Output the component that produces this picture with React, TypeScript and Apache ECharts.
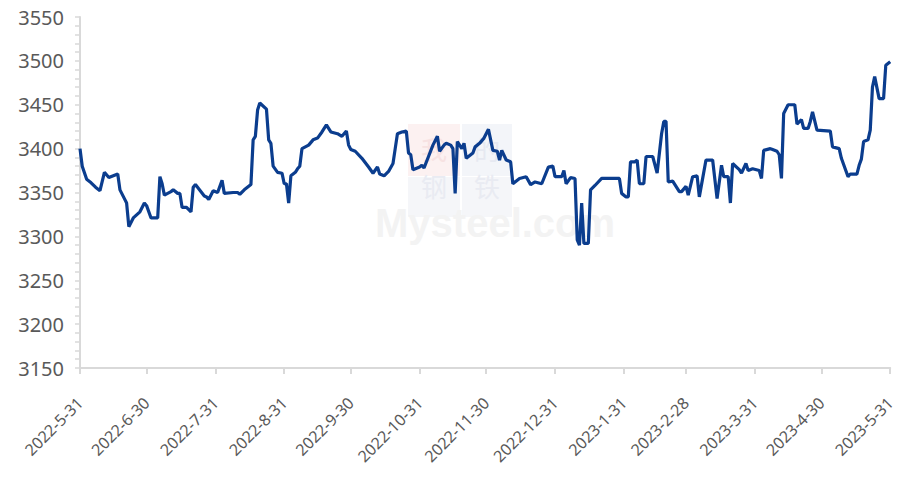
import React, { useEffect, useRef } from "react";
import * as echarts from "echarts";

const startDate = "2022-05-31";
const endDate = "2023-05-31";

const yTicks = { min: 3150, max: 3550, step: 50 };

const dates: string[] = [
  "2022-05-31", "2022-06-01", "2022-06-03", "2022-06-05", "2022-06-07", "2022-06-09", "2022-06-11", "2022-06-13",
  "2022-06-17", "2022-06-18", "2022-06-20", "2022-06-21", "2022-06-22", "2022-06-24", "2022-06-27", "2022-06-29",
  "2022-06-30", "2022-07-02", "2022-07-05", "2022-07-06", "2022-07-07", "2022-07-08", "2022-07-11", "2022-07-12",
  "2022-07-14", "2022-07-15", "2022-07-16", "2022-07-18", "2022-07-20", "2022-07-21", "2022-07-22", "2022-07-26",
  "2022-07-27", "2022-07-28", "2022-07-30", "2022-08-01", "2022-08-03", "2022-08-04", "2022-08-08", "2022-08-10",
  "2022-08-11", "2022-08-13", "2022-08-16", "2022-08-17", "2022-08-18", "2022-08-19", "2022-08-20", "2022-08-23",
  "2022-08-24", "2022-08-25", "2022-08-26", "2022-08-28", "2022-08-30", "2022-08-31", "2022-09-01", "2022-09-02",
  "2022-09-03", "2022-09-05", "2022-09-06", "2022-09-07", "2022-09-08", "2022-09-11", "2022-09-13", "2022-09-15",
  "2022-09-17", "2022-09-19", "2022-09-21", "2022-09-24", "2022-09-26", "2022-09-28", "2022-09-29", "2022-09-30",
  "2022-10-02", "2022-10-05", "2022-10-08", "2022-10-10", "2022-10-12", "2022-10-13", "2022-10-15", "2022-10-17",
  "2022-10-19", "2022-10-20", "2022-10-21", "2022-10-23", "2022-10-25", "2022-10-26", "2022-10-27", "2022-10-28",
  "2022-10-31", "2022-11-01", "2022-11-02", "2022-11-04", "2022-11-06", "2022-11-08", "2022-11-09", "2022-11-11",
  "2022-11-12", "2022-11-14", "2022-11-15", "2022-11-16", "2022-11-17", "2022-11-19", "2022-11-20", "2022-11-21",
  "2022-11-24", "2022-11-25", "2022-11-27", "2022-11-29", "2022-12-01", "2022-12-03", "2022-12-05", "2022-12-06",
  "2022-12-07", "2022-12-09", "2022-12-11", "2022-12-12", "2022-12-15", "2022-12-18", "2022-12-20", "2022-12-22",
  "2022-12-25", "2022-12-28", "2022-12-30", "2022-12-31", "2023-01-03", "2023-01-04", "2023-01-05", "2023-01-07",
  "2023-01-09", "2023-01-10", "2023-01-11", "2023-01-12", "2023-01-13", "2023-01-15", "2023-01-16", "2023-01-18",
  "2023-01-21", "2023-01-29", "2023-01-30", "2023-02-01", "2023-02-02", "2023-02-03", "2023-02-05", "2023-02-06",
  "2023-02-07", "2023-02-09", "2023-02-10", "2023-02-13", "2023-02-15", "2023-02-17", "2023-02-18", "2023-02-19",
  "2023-02-20", "2023-02-22", "2023-02-23", "2023-02-25", "2023-02-26", "2023-02-28", "2023-03-01", "2023-03-03",
  "2023-03-05", "2023-03-06", "2023-03-09", "2023-03-12", "2023-03-14", "2023-03-16", "2023-03-17", "2023-03-19",
  "2023-03-20", "2023-03-21", "2023-03-24", "2023-03-25", "2023-03-27", "2023-03-28", "2023-03-30", "2023-04-02",
  "2023-04-03", "2023-04-04", "2023-04-07", "2023-04-08", "2023-04-10", "2023-04-11", "2023-04-12", "2023-04-13",
  "2023-04-15", "2023-04-18", "2023-04-19", "2023-04-21", "2023-04-22", "2023-04-24", "2023-04-25", "2023-04-26",
  "2023-04-28", "2023-05-04", "2023-05-05", "2023-05-08", "2023-05-09", "2023-05-12", "2023-05-13", "2023-05-16",
  "2023-05-17", "2023-05-18", "2023-05-19", "2023-05-21", "2023-05-22", "2023-05-23", "2023-05-24", "2023-05-26",
  "2023-05-28", "2023-05-29", "2023-05-31",
];

const prices: number[] = [
  3400, 3380, 3365, 3361, 3356, 3352, 3373, 3367,
  3371, 3353, 3343, 3338, 3311, 3321, 3328, 3338,
  3335, 3321, 3321, 3368, 3360, 3347, 3351, 3353,
  3349, 3349, 3333, 3333, 3328, 3356, 3359, 3346,
  3345, 3342, 3352, 3350, 3364, 3349, 3350, 3350,
  3348, 3353, 3359, 3410, 3414, 3444, 3452, 3445,
  3410, 3406, 3380, 3373, 3372, 3360, 3360, 3338,
  3369, 3373, 3377, 3380, 3400, 3404, 3410, 3412,
  3419, 3427, 3419, 3417, 3414, 3420, 3404, 3399,
  3397, 3389, 3379, 3372, 3379, 3371, 3369, 3374,
  3383, 3400, 3417, 3419, 3420, 3395, 3393, 3376,
  3379, 3381, 3378, 3391, 3404, 3414, 3397, 3404,
  3406, 3404, 3400, 3349, 3408, 3400, 3406, 3389,
  3395, 3402, 3406, 3412, 3422, 3398, 3397, 3387,
  3398, 3387, 3385, 3360, 3366, 3368, 3359, 3362,
  3360, 3379, 3380, 3368, 3368, 3375, 3360, 3367,
  3366, 3296, 3290, 3338, 3292, 3292, 3353, 3358,
  3366, 3366, 3349, 3345, 3345, 3385, 3385, 3387,
  3360, 3360, 3391, 3391, 3372, 3417, 3431, 3431,
  3362, 3363, 3359, 3351, 3351, 3357, 3347, 3368,
  3369, 3345, 3387, 3387, 3343, 3381, 3368, 3368,
  3338, 3383, 3376, 3372, 3383, 3375, 3377, 3375,
  3366, 3398, 3400, 3399, 3397, 3393, 3366, 3440,
  3450, 3450, 3428, 3433, 3423, 3423, 3431, 3442,
  3421, 3420, 3402, 3400, 3389, 3368, 3371, 3371,
  3381, 3388, 3408, 3410, 3421, 3470, 3482, 3457,
  3457, 3495, 3499,
];

function buildDays(start: string, end: string): string[] {
  const out: string[] = [];
  const s = new Date(start + "T00:00:00Z");
  const e = new Date(end + "T00:00:00Z");
  for (let t = s.getTime(); t <= e.getTime(); t += 86400000) {
    const d = new Date(t);
    const y = d.getUTCFullYear();
    const m = String(d.getUTCMonth() + 1).padStart(2, "0");
    const dd = String(d.getUTCDate()).padStart(2, "0");
    out.push(`${y}-${m}-${dd}`);
  }
  return out;
}

function isMonthEnd(iso: string): boolean {
  const d = new Date(iso + "T00:00:00Z");
  const n = new Date(d.getTime() + 86400000);
  return n.getUTCDate() === 1;
}

function shortLabel(iso: string): string {
  const [y, m, d] = iso.split("-");
  return `${y}-${parseInt(m, 10)}-${parseInt(d, 10)}`;
}

export default function App() {
  const ref = useRef<HTMLDivElement>(null);

  useEffect(() => {
    document.body.style.margin = "0";
    if (!ref.current) return;
    const chart = echarts.init(ref.current, undefined, { renderer: "svg" });
    const days = buildDays(startDate, endDate);
    const indexOf: Record<string, number> = {};
    days.forEach((d, i) => (indexOf[d] = i));
    const seriesData = dates.map((d, i) => [indexOf[d], prices[i]]);
    const font = "'Noto Sans', 'Microsoft YaHei', sans-serif";
    const cjk = "26px 'Noto Sans CJK SC'";

    chart.setOption({
      animation: false,
      backgroundColor: "#ffffff",
      grid: { left: 80, right: 6, top: 17, bottom: 117, containLabel: false },
      graphic: [
        {
          type: "group",
          silent: true,
          z: -10,
          children: [
            { type: "rect", shape: { x: 408, y: 124, width: 52, height: 52 }, style: { fill: "#fcf1f1" } },
            { type: "rect", shape: { x: 462, y: 124, width: 50, height: 52 }, style: { fill: "#f3f5f9" } },
            { type: "rect", shape: { x: 408, y: 177, width: 52, height: 40 }, style: { fill: "#f5f6f9" } },
            { type: "rect", shape: { x: 462, y: 177, width: 50, height: 40 }, style: { fill: "#f5f6f9" } },
            { type: "text", style: { text: "我", x: 434, y: 148, fill: "#f7e2e2", font: cjk, lineHeight: 26, align: "center", verticalAlign: "middle" } },
            { type: "text", style: { text: "的", x: 487, y: 148, fill: "#e6e9f1", font: cjk, lineHeight: 26, align: "center", verticalAlign: "middle" } },
            { type: "text", style: { text: "钢", x: 434, y: 185, fill: "#e9ebf2", font: cjk, lineHeight: 26, align: "center", verticalAlign: "middle" } },
            { type: "text", style: { text: "铁", x: 487, y: 185, fill: "#e9ebf2", font: cjk, lineHeight: 26, align: "center", verticalAlign: "middle" } },
            { type: "text", style: { text: "Mysteel.com", x: 375, y: 223, fill: "#f3f3f3", font: "bold 40px 'Liberation Sans'", lineHeight: 36, align: "left", verticalAlign: "middle" } },
          ],
        },
      ],
      xAxis: {
        type: "category",
        data: days,
        boundaryGap: false,
        axisLine: { lineStyle: { color: "#d9d9d9", width: 2 } },
        axisTick: {
          show: true,
          length: 6,
          interval: (i: number, v: string) => isMonthEnd(v),
          lineStyle: { color: "#d9d9d9", width: 2 },
        },
        axisLabel: {
          interval: (i: number, v: string) => isMonthEnd(v),
          formatter: (v: string) => shortLabel(v),
          rotate: 45,
          color: "#595959",
          fontSize: 16,
          fontFamily: font,
          margin: 32,
        },
        splitLine: { show: false },
      },
      yAxis: {
        type: "value",
        min: yTicks.min,
        max: yTicks.max,
        interval: yTicks.step,
        axisLine: { show: true, lineStyle: { color: "#d9d9d9", width: 2 } },
        axisTick: { show: true, length: 5, lineStyle: { color: "#d9d9d9", width: 1.5 } },
        minorTick: { show: true, splitNumber: 5, length: 5, lineStyle: { color: "#d9d9d9", width: 1.5 } },
        axisLabel: {
          color: "#595959",
          fontSize: 20,
          fontFamily: font,
          margin: 16,
          formatter: (v: number) => String(v),
        },
        splitLine: { show: false },
      },
      series: [
        {
          type: "line",
          data: seriesData,
          showSymbol: false,
          symbol: "none",
          lineStyle: { color: "#0b3d8e", width: 3.2 },
          itemStyle: { color: "#0b3d8e" },
          z: 5,
        },
      ],
    });

    return () => chart.dispose();
  }, []);

  return <div ref={ref} style={{ width: 898, height: 485 }} />;
}
